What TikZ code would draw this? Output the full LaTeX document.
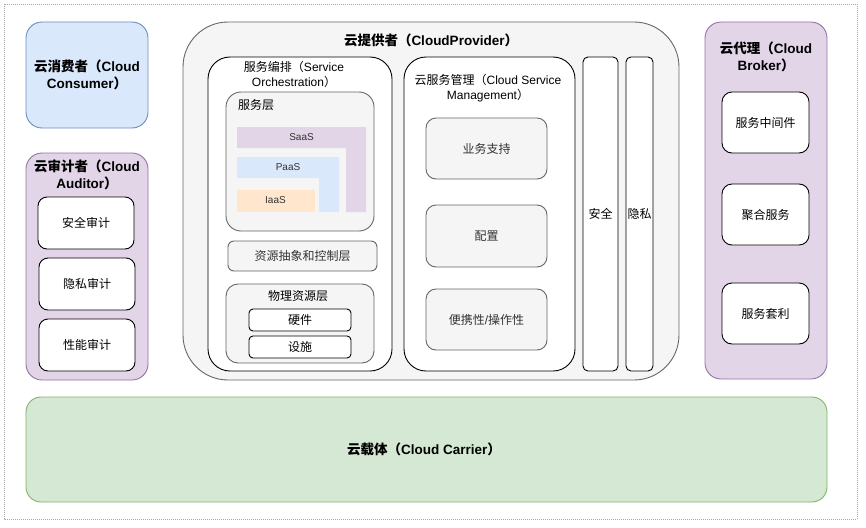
\documentclass[tikz,border=0pt]{standalone}
\usepackage{fontspec}
\setmainfont{Liberation Sans}
\newfontfamily\cjk{Noto Sans CJK SC}
\newcommand\zh[1]{{\cjk #1}}
\definecolor{bluefill}{HTML}{DAE8FC}
\definecolor{bluestroke}{HTML}{6C8EBF}
\definecolor{purplefill}{HTML}{E1D5E7}
\definecolor{purplestroke}{HTML}{9673A6}
\definecolor{greenfill}{HTML}{D5E8D4}
\definecolor{greenstroke}{HTML}{82B366}
\definecolor{greyfill}{HTML}{F5F5F5}
\definecolor{greystroke}{HTML}{666666}
\definecolor{orangefill}{HTML}{FFE6CC}
\definecolor{greytext}{HTML}{333333}
\begin{document}
\begin{tikzpicture}[x=1pt,y=-1pt,
  base/.style={rectangle, line width=0.9pt, inner sep=0pt, align=center,
    font=\fontsize{12}{14.5}\selectfont},
  bluebox/.style={base, draw=bluestroke, fill=bluefill, rounded corners=16pt},
  purplebox/.style={base, draw=purplestroke, fill=purplefill, rounded corners=16pt},
  greenbox/.style={base, draw=greenstroke, fill=greenfill, rounded corners=15pt},
  greybox/.style={base, draw=greystroke, fill=greyfill, text=greytext},
  whitebox/.style={base, draw=black, fill=white, text=black},
  title/.style={inner sep=0pt, align=center, font=\fontsize{13.5}{17}\selectfont\bfseries},
  label/.style={inner sep=0pt, align=center, font=\fontsize{12}{14.5}\selectfont},
  small/.style={inner sep=0pt, font=\fontsize{10}{12}\selectfont, text=greytext}
]
\useasboundingbox (0,0) rectangle (866,527);
\draw[gray!70, line width=0.6pt, dash pattern=on 1pt off 1pt] (4,4) rectangle (857,519);

% Cloud Consumer
\node[bluebox, minimum width=122pt, minimum height=106pt] (consumer) at (87,75) {};
\node[title] (consumerT) at (87,75) {\zh{云消费者（}Cloud\\Consumer\zh{）}};

% Cloud Auditor
\node[purplebox, minimum width=122pt, minimum height=227pt] (auditor) at (87,266.5) {};
\node[title] (auditorT) at (87,175) {\zh{云审计者（}Cloud\\Auditor\zh{）}};
\node[whitebox, rounded corners=9pt, minimum width=96pt, minimum height=52pt] (aud1) at (86,223) {\zh{安全审计}};
\node[whitebox, rounded corners=9pt, minimum width=96pt, minimum height=52pt] (aud2) at (87,284) {\zh{隐私审计}};
\node[whitebox, rounded corners=9pt, minimum width=96pt, minimum height=52pt] (aud3) at (87,345) {\zh{性能审计}};

% Cloud Provider
\node[greybox, rounded corners=45pt, minimum width=496pt, minimum height=358pt] (provider) at (431,201) {};
\node[title] (providerT) at (431,40) {\zh{云提供者（}CloudProvider\zh{）}};

% Service orchestration
\node[whitebox, rounded corners=22pt, minimum width=184pt, minimum height=314pt] (orch) at (300,214) {};
\node[label] (orchT) at (294,74.5) {\zh{服务编排（}Service\\Orchestration\zh{）}};

\node[greybox, rounded corners=15pt, minimum width=148pt, minimum height=139pt] (svc) at (300,161.5) {};
\node[label, anchor=west, text=black] (svcT) at (238,105) {\zh{服务层}};
\fill[purplefill] (237,127) -- (366,127) -- (366,212) -- (346,212) -- (346,148) -- (237,148) -- cycle;
\fill[bluefill] (237,157) -- (339,157) -- (339,212) -- (319,212) -- (319,178) -- (237,178) -- cycle;
\fill[orangefill] (237,190) rectangle (315,212);
\node[small] (saas) at (301.5,137.5) {SaaS};
\node[small] (paas) at (288,167.5) {PaaS};
\node[small] (iaas) at (275.5,200.5) {IaaS};

\node[greybox, rounded corners=6pt, minimum width=149pt, minimum height=30pt] (resabs) at (302.5,256) {\zh{资源抽象和控制层}};
\node[greybox, rounded corners=12pt, minimum width=148pt, minimum height=79pt] (phys) at (300,323.5) {};
\node[label, text=black] (physT) at (298,296) {\zh{物理资源层}};
\node[whitebox, rounded corners=4pt, minimum width=102pt, minimum height=22pt] (hw) at (300,320) {\zh{硬件}};
\node[whitebox, rounded corners=4pt, minimum width=102pt, minimum height=22pt] (fac) at (300,347) {\zh{设施}};

% Cloud service management
\node[whitebox, rounded corners=22pt, minimum width=171pt, minimum height=314pt] (mgmt) at (489.5,214) {};
\node[label] (mgmtT) at (488,88) {\zh{云服务管理（}Cloud Service\\Management\zh{）}};
\node[greybox, rounded corners=10pt, minimum width=121pt, minimum height=61pt] (biz) at (486.5,148.5) {\zh{业务支持}};
\node[greybox, rounded corners=10pt, minimum width=121pt, minimum height=62pt] (cfg) at (486.5,236) {\zh{配置}};
\node[greybox, rounded corners=10pt, minimum width=121pt, minimum height=61pt] (port) at (486.5,319.5) {\zh{便携性}/\zh{操作性}};

% Security, privacy
\node[whitebox, rounded corners=5pt, minimum width=35pt, minimum height=314pt] (sec) at (600.5,214) {\zh{安全}};
\node[whitebox, rounded corners=5pt, minimum width=27pt, minimum height=314pt] (priv) at (639.5,214) {\zh{隐私}};

% Cloud Broker
\node[purplebox, minimum width=122pt, minimum height=357pt] (broker) at (766,200.5) {};
\node[title] (brokerT) at (766,57) {\zh{云代理（}Cloud\\Broker\zh{）}};
\node[whitebox, rounded corners=10pt, minimum width=87pt, minimum height=61pt] (br1) at (765.5,122.5) {\zh{服务中间件}};
\node[whitebox, rounded corners=10pt, minimum width=87pt, minimum height=61pt] (br2) at (765.5,214.5) {\zh{聚合服务}};
\node[whitebox, rounded corners=10pt, minimum width=87pt, minimum height=61pt] (br3) at (765.5,313.5) {\zh{服务套利}};

% Cloud Carrier
\node[greenbox, minimum width=801pt, minimum height=105pt] (carrier) at (426.5,449.5) {};
\node[title] (carrierT) at (424,449) {\zh{云载体（}Cloud Carrier\zh{）}};
\end{tikzpicture}
\end{document}
